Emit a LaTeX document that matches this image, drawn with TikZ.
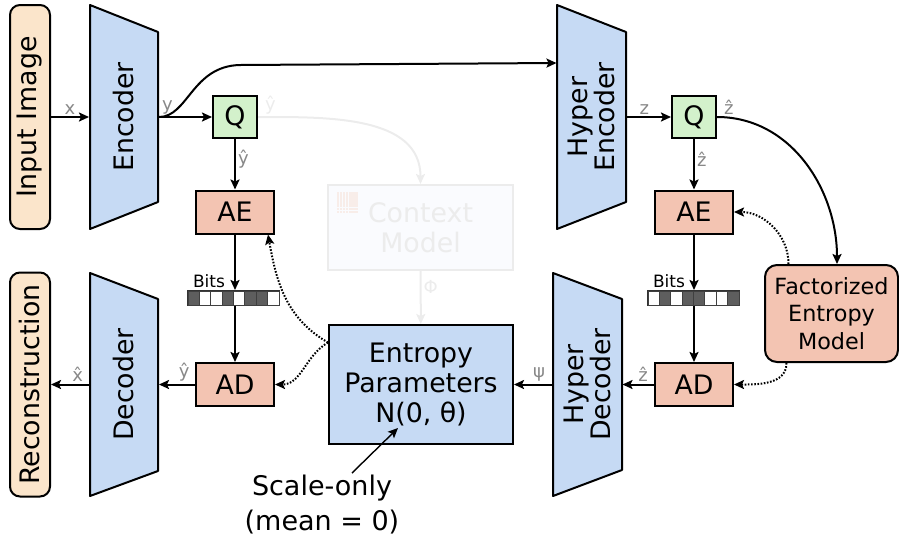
\documentclass[tikz,border=0pt]{standalone}
\usepackage{fontspec}
\setmainfont{DejaVu Sans}
\usepackage{tikz}
\usetikzlibrary{arrows.meta}
\definecolor{netblue}{HTML}{C6DAF4}
\definecolor{quantgreen}{HTML}{D3F1CB}
\definecolor{codersalmon}{HTML}{F3C4B2}
\definecolor{inputpeach}{HTML}{FBE5CB}
\definecolor{vargray}{HTML}{888888}
\definecolor{fadegray}{HTML}{ECECEC}
\definecolor{fadefill}{HTML}{FAFBFE}
\definecolor{bitdark}{HTML}{5E5E5E}
\definecolor{iconpink}{HTML}{F8EDE9}

\begin{document}
\begin{tikzpicture}[x=1pt, y=-1pt, line width=2pt,
		>={Stealth[length=10pt, width=9pt, inset=2pt]},
		every node/.style={font=\fontsize{26.8}{30}\selectfont, inner sep=0pt},
		io/.style={draw, rounded corners=10pt, fill=inputpeach, rotate=90, minimum width=224pt, minimum height=40pt},
		trap/.style={draw, fill=netblue, line join=round},
		net/.style={rotate=90, minimum width=224pt, minimum height=68pt, align=center, font=\fontsize{26.8}{27}\selectfont},
		quant/.style={draw, fill=quantgreen, minimum width=44pt, minimum height=42pt},
		coder/.style={draw, fill=codersalmon, minimum width=78pt, minimum height=43pt},
		bitbar/.style={draw=black!80, minimum width=91pt, minimum height=14pt},
		bitslbl/.style={font=\fontsize{17}{18}\selectfont},
		var/.style={font=\fontsize{18}{19}\selectfont, text=vargray, inner sep=2pt},
		faded/.style={draw=fadegray, text=fadegray},
		hint/.style={dash pattern=on 1.6pt off 1.6pt}]
	\useasboundingbox (0,0) rectangle (899,539);
	% encoder side
	\node[io] at (30,117) (img){Input Image};
	\draw[trap] (90,5) -- (158,32) -- (158,202) -- (90,229) -- cycle;
	\node[net] at (124,117) (enc){Encoder};
	\node[quant] at (235,117) (q){Q};
	\node[coder] at (235,212) (ae){AE};
	\node[bitbar] at (233.5,298) (bits){};
	\node[coder] at (235,384.5) (ad){AD};
	\draw[trap] (90,273) -- (158,299) -- (158,471) -- (90,496) -- cycle;
	\node[net] at (124,384.5) (dec){Decoder};
	\node[io] at (30,384.5) (rec){Reconstruction};
	% hyper side
	\draw[trap] (557,5) -- (626,32) -- (626,202) -- (557,229) -- cycle;
	\node[net] at (591.5,117) (henc){Hyper\\Encoder};
	\node[quant] at (694,117) (hq){Q};
	\node[coder] at (694,212) (hae){AE};
	\node[bitbar] at (693.5,298) (hbits){};
	\node[coder] at (694,384.5) (had){AD};
	\draw[trap] (553,273) -- (622,299) -- (622,470) -- (553,496) -- cycle;
	\node[net] at (587.5,384.5) (hdec){Hyper\\Decoder};
	\node[draw, rounded corners=12pt, fill=codersalmon, minimum width=133pt, minimum height=97pt, align=center, font=\fontsize{22.3}{27.5}\selectfont] at (831.5,313.5) (fem){Factorized\\Entropy\\Model};
	% entropy parameters and context model
	\node[draw, fill=netblue, minimum width=184pt, minimum height=119pt, align=center] at (421,384.5) (ep){Entropy\\Parameters\\N(0, θ)};
	\node[faded, fill=fadefill, minimum width=185pt, minimum height=85pt, align=center] at (420.5,227.5) (ctx){Context\\Model};
	\foreach \i in {0,...,6}
		\foreach \j in {0,...,6}
			\fill[iconpink] (336.5+3.1*\i,192+3.1*\j) rectangle ++(2.6,2.6);
	\node[align=center, font=\fontsize{27}{35}\selectfont] at (322,505) (note){Scale-only\\(mean = 0)};
	% bits
	\foreach \col [count=\i from 0] in {bitdark,white,white,bitdark,white,bitdark,bitdark,white}
		\draw[fill=\col, draw=black!75, line width=1pt] (188+\i*11.375,291) rectangle ++(11.375,14);
	\foreach \col [count=\i from 0] in {white,bitdark,white,bitdark,bitdark,white,white,bitdark}
		\draw[fill=\col, draw=black!75, line width=1pt] (648+\i*11.375,291) rectangle ++(11.375,14);
	\node[bitslbl, anchor=base west] at ([shift={(5pt,3pt)}]bits.north west) (bitstxt){Bits};
	\node[bitslbl, anchor=base west] at ([shift={(5pt,3pt)}]hbits.north west) (hbitstxt){Bits};
	% connectors
	\draw[->] (img) -- (enc) node[midway, above, var]{x};
	\draw[->] (enc) -- (q) node[pos=0, above right, var]{y};
	\draw[->] (enc.south) .. controls (188,117) and (192,66) .. (240,65) -- ([yshift=54pt]henc.north);
	\draw[->] (q) -- (ae) node[pos=0.4, right, var]{\^y};
	\draw[->] (ae) -- (ae |- bits.north);
	\draw[->] (ae |- bits.south) -- (ad);
	\draw[->] (ad) -- (dec) node[pos=0.3, above, var]{\^y};
	\draw[->] (dec) -- (rec) node[pos=0.3, above, var]{\^x};
	\draw[->] (henc) -- (hq) node[pos=0.4, above, var]{z};
	\draw[->] (hq) -- (hae) node[pos=0.4, right, var]{\^z};
	\draw[->] (hq.east) to[out=0, in=90] ([xshift=5.5pt]fem.north);
	\node[var, anchor=south west] at ([xshift=4pt]hq.east) (hqlbl){\^z};
	\draw[->] (hae) -- (hae |- hbits.north);
	\draw[->] (hae |- hbits.south) -- (had);
	\draw[->] (had) -- (hdec) node[pos=0.35, above, var]{\^z};
	\draw[->] (hdec) -- (ep) node[pos=0.35, above, var]{ψ};
	\draw[->, hint] ([xshift=-43pt]fem.north) to[out=90, in=0] (hae.east);
	\draw[->, hint] ([xshift=-45pt]fem.south) to[out=-90, in=0] (had.east);
	\draw[->, hint] ([yshift=42pt]ep.west) to[out=150, in=-80] ([xshift=33pt]ae.south);
	\draw[->, hint] ([yshift=42pt]ep.west) to[out=210, in=0] (ad.east);
	\draw[->, fadegray] (q.east) to[out=0, in=90] (ctx.north);
	\node[var, text=fadegray, anchor=south west] at ([xshift=4pt]q.east) (qlbl){\^y};
	\draw[->, fadegray] (ctx) -- (ep) node[pos=0.3, right, var, text=fadegray]{Φ};
	\draw[->, line width=1.4pt] ([shift={(30pt,32pt)}]note.center) -- ([shift={(-23pt,-43.5pt)}]ep.center);
\end{tikzpicture}
\end{document}
